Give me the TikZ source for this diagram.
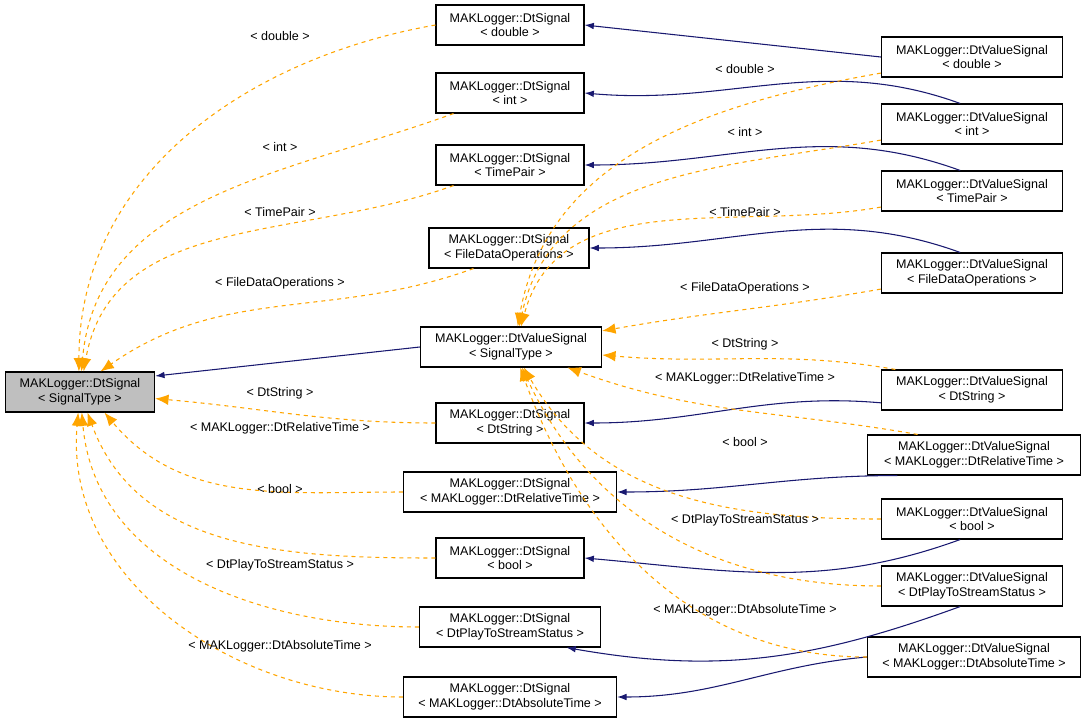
\documentclass[tikz,border=0pt]{standalone}
\usepackage{fontspec}
\setmainfont{Liberation Sans}
\usetikzlibrary{arrows.meta}
\definecolor{edgeblue}{HTML}{191970}
\definecolor{edgeorange}{HTML}{FFA500}
\begin{document}
\begin{tikzpicture}[x=0.75pt, y=-0.75pt, font=\fontsize{9.4}{11}\selectfont, line width=0.8pt]
\tikzstyle{classbox}=[rectangle, draw=black, fill=white, align=center, minimum height=30pt, inner sep=2pt]
\tikzstyle{basebox}=[classbox, fill=black!25]
\tikzstyle{solidedge}=[edgeblue, -{Latex[length=7pt, width=5pt]}]
\tikzstyle{tmpledge}=[edgeorange, dashed, -{Latex[length=10pt, width=8pt]}]
\tikzstyle{tmpllabel}=[fill=none, inner sep=1pt]

\useasboundingbox (0,0) rectangle (1088,721);

\node[basebox, minimum width=112pt] (Root) at (80,392) {MAKLogger::DtSignal\\< SignalType >};
\node[classbox, minimum width=136pt] (VSig) at (511,347) {MAKLogger::DtValueSignal\\< SignalType >};

\node[classbox, minimum width=111pt] (Sdouble) at (510,25) {MAKLogger::DtSignal\\< double >};
\node[classbox, minimum width=111pt] (Sint) at (510,93) {MAKLogger::DtSignal\\< int >};
\node[classbox, minimum width=111pt] (Stime) at (510,165) {MAKLogger::DtSignal\\< TimePair >};
\node[classbox, minimum width=120pt] (Sfdo) at (509,248) {MAKLogger::DtSignal\\< FileDataOperations >};
\node[classbox, minimum width=111pt] (Sstr) at (510,423) {MAKLogger::DtSignal\\< DtString >};
\node[classbox, minimum width=160pt] (Srel) at (510,492) {MAKLogger::DtSignal\\< MAKLogger::DtRelativeTime >};
\node[classbox, minimum width=111pt] (Sbool) at (510,558) {MAKLogger::DtSignal\\< bool >};
\node[classbox, minimum width=136pt] (Splay) at (510,627) {MAKLogger::DtSignal\\< DtPlayToStreamStatus >};
\node[classbox, minimum width=160pt] (Sabs) at (510,697) {MAKLogger::DtSignal\\< MAKLogger::DtAbsoluteTime >};

\node[classbox, minimum width=136pt] (Vdouble) at (972,57) {MAKLogger::DtValueSignal\\< double >};
\node[classbox, minimum width=136pt] (Vint) at (972,124) {MAKLogger::DtValueSignal\\< int >};
\node[classbox, minimum width=136pt] (Vtime) at (972,191) {MAKLogger::DtValueSignal\\< TimePair >};
\node[classbox, minimum width=136pt] (Vfdo) at (972,273) {MAKLogger::DtValueSignal\\< FileDataOperations >};
\node[classbox, minimum width=136pt] (Vstr) at (972,390) {MAKLogger::DtValueSignal\\< DtString >};
\node[classbox, minimum width=160pt] (Vrel) at (974,455) {MAKLogger::DtValueSignal\\< MAKLogger::DtRelativeTime >};
\node[classbox, minimum width=136pt] (Vbool) at (972,519) {MAKLogger::DtValueSignal\\< bool >};
\node[classbox, minimum width=136pt] (Vplay) at (972,586) {MAKLogger::DtValueSignal\\< DtPlayToStreamStatus >};
\node[classbox, minimum width=160pt] (Vabs) at (974,657) {MAKLogger::DtValueSignal\\< MAKLogger::DtAbsoluteTime >};

% solid inheritance
\draw[solidedge] (VSig.west) -- (Root.12);
\draw[solidedge] (Vdouble.west) -- (Sdouble.east);
\draw[solidedge] (Vint.120) to[out=160, in=-5] (Sint.east);
\draw[solidedge] (Vtime.120) to[out=160, in=0] (Stime.east);
\draw[solidedge] (Vfdo.120) to[out=160, in=0] (Sfdo.east);
\draw[solidedge] (Vstr.-172) to[out=175, in=0] (Sstr.east);
\draw[solidedge] (Vrel.-165) to[out=180, in=0] (Srel.east);
\draw[solidedge] (Vbool.-120) to[out=200, in=-5] (Sbool.east);
\draw[solidedge] (Vplay.-120) to[out=200, in=-10] (Splay.-20);
\draw[solidedge] (Vabs.west) to[out=185, in=0] (Sabs.east);

% template instances of DtSignal
\draw[tmpledge] (Sdouble.west) to[out=190, in=90] (Root.93);
\draw[tmpledge] (Sint.-160) to[out=200, in=85] (Root.86);
\draw[tmpledge] (Stime.-160) to[out=200, in=80] (Root.80);
\draw[tmpledge] (Sfdo.-150) to[out=200, in=35] (Root.45);
\draw[tmpledge] (Sstr.west) to[out=180, in=-5] (Root.-5);
\draw[tmpledge] (Srel.west) to[out=180, in=-50] (Root.-40);
\draw[tmpledge] (Sbool.west) to[out=180, in=-70] (Root.-70);
\draw[tmpledge] (Splay.west) to[out=180, in=-85] (Root.-85);
\draw[tmpledge] (Sabs.west) to[out=180, in=-95] (Root.-95);
\node[tmpllabel] (Ldouble) at (280,36) {< double >};
\node[tmpllabel] (Lint) at (280,147) {< int >};
\node[tmpllabel] (Ltime) at (280,212) {< TimePair >};
\node[tmpllabel] (Lfdo) at (280,283) {< FileDataOperations >};
\node[tmpllabel] (Lstr) at (280,393) {< DtString >};
\node[tmpllabel] (Lrel) at (280,428) {< MAKLogger::DtRelativeTime >};
\node[tmpllabel] (Lbool) at (280,489) {< bool >};
\node[tmpllabel] (Lplay) at (280,565) {< DtPlayToStreamStatus >};
\node[tmpllabel] (Labs) at (280,646) {< MAKLogger::DtAbsoluteTime >};

% template instances of DtValueSignal
\draw[tmpledge] (Vdouble.-170) to[out=190, in=80] (VSig.72);
\draw[tmpledge] (Vint.-170) to[out=190, in=78] (VSig.68);
\draw[tmpledge] (Vtime.-170) to[out=190, in=75] (VSig.64);
\draw[tmpledge] (Vfdo.-170) to[out=190, in=10] (VSig.10);
\draw[tmpledge] (Vstr.165) to[out=170, in=-5] (VSig.-5);
\draw[tmpledge] (Vrel.160) to[out=170, in=-20] (VSig.-20);
\draw[tmpledge] (Vbool.west) to[out=180, in=-60] (VSig.-58);
\draw[tmpledge] (Vplay.west) to[out=180, in=-65] (VSig.-62);
\draw[tmpledge] (Vabs.west) to[out=180, in=-70] (VSig.-66);
\node[tmpllabel] (Mdouble) at (745,69) {< double >};
\node[tmpllabel] (Mint) at (745,132) {< int >};
\node[tmpllabel] (Mtime) at (745,212) {< TimePair >};
\node[tmpllabel] (Mfdo) at (745,288) {< FileDataOperations >};
\node[tmpllabel] (Mstr) at (745,344) {< DtString >};
\node[tmpllabel] (Mrel) at (745,378) {< MAKLogger::DtRelativeTime >};
\node[tmpllabel] (Mbool) at (745,442) {< bool >};
\node[tmpllabel] (Mplay) at (745,520) {< DtPlayToStreamStatus >};
\node[tmpllabel] (Mabs) at (745,610) {< MAKLogger::DtAbsoluteTime >};
\end{tikzpicture}
\end{document}
